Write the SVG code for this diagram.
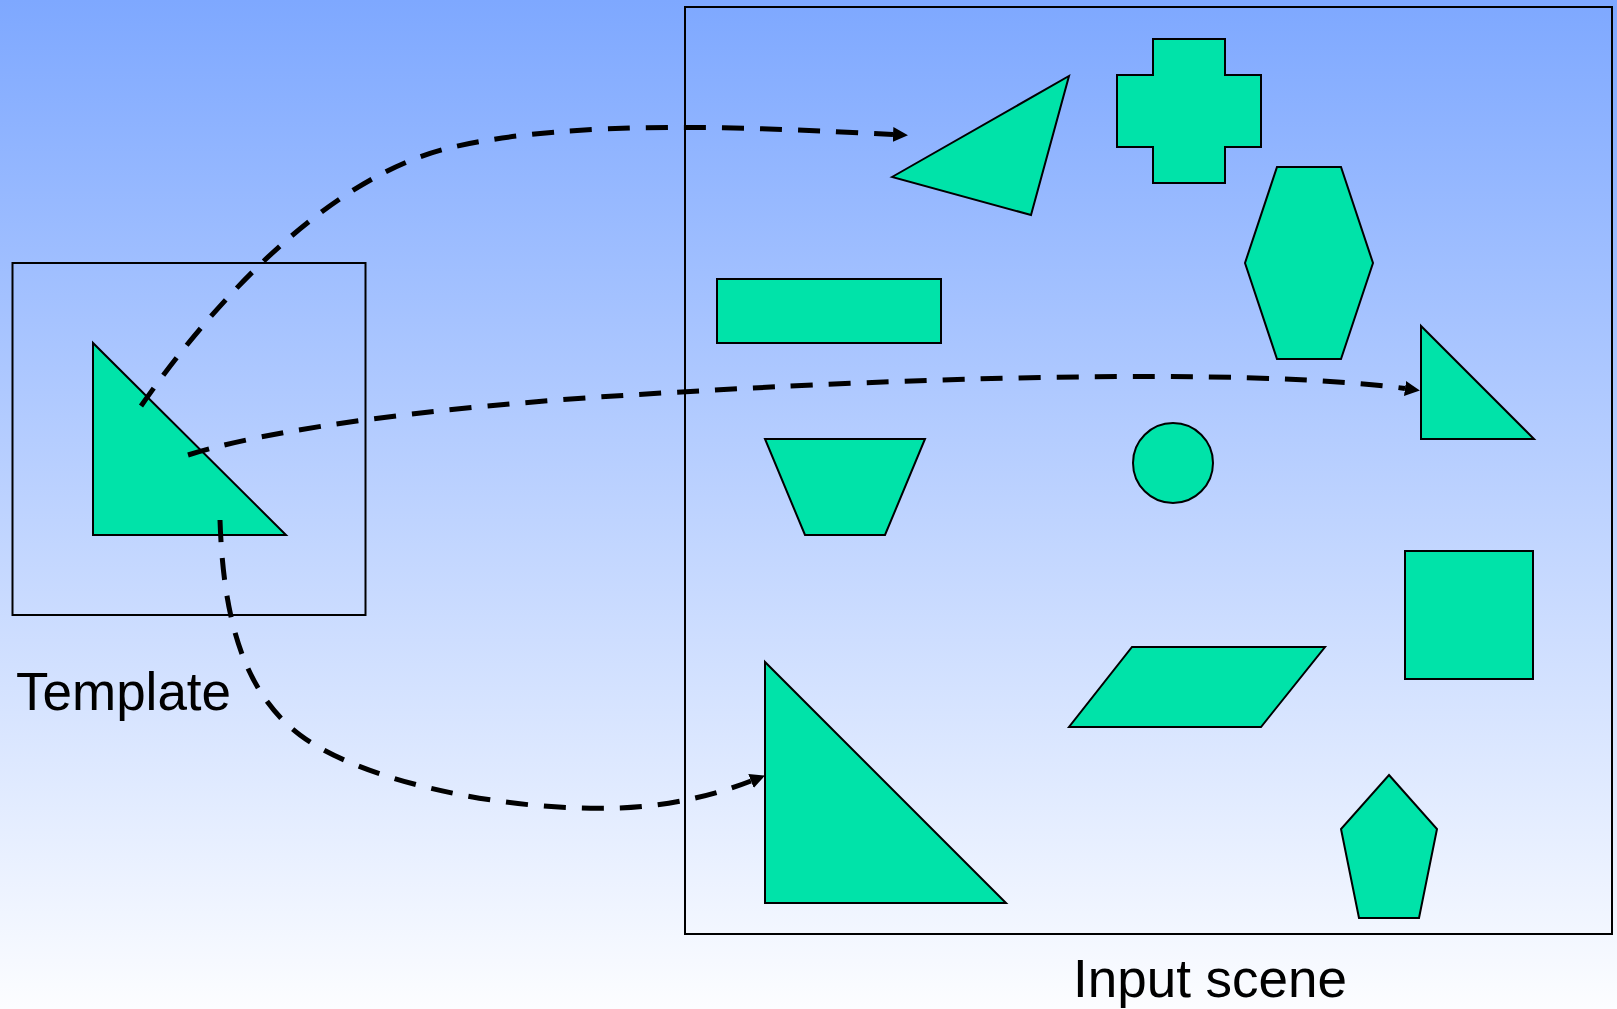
<svg xmlns="http://www.w3.org/2000/svg" width="1617" height="1009" viewBox="0 0 1617 1009">
  <defs>
    <linearGradient id="bg" x1="0" y1="0" x2="0" y2="1">
      <stop offset="0" stop-color="#7EA8FF"/>
      <stop offset="1" stop-color="#FCFDFF"/>
    </linearGradient>
    <marker id="arrow" markerUnits="userSpaceOnUse" markerWidth="16" markerHeight="16" refX="0" refY="7.5" orient="auto">
      <path d="M0,0 L15,7.5 L0,15 Z" fill="#000"/>
    </marker>
    <style>
      .frame { fill: none; stroke: #000; stroke-width: 2; }
      .shape { fill: #00E3A9; stroke: #000; stroke-width: 2; stroke-linejoin: miter; }
      .link { fill: none; stroke: #000; stroke-width: 5; stroke-dasharray: 22 16; marker-end: url(#arrow); }
      .label { font-family: "Liberation Sans", Arial, sans-serif; font-size: 53px; fill: #000; }
    </style>
  </defs>

  <rect x="0" y="0" width="1617" height="1009" fill="url(#bg)"/>

  <!-- template panel -->
  <g id="template">
    <rect class="frame" x="12.5" y="263" width="353" height="352"/>
    <polygon class="shape" points="93,343 93,535 286,535"/>
    <text class="label" x="16" y="710">Template</text>
  </g>

  <!-- scene panel -->
  <g id="scene">
    <rect class="frame" x="685" y="7" width="927" height="927"/>
    <text class="label" x="1073" y="997">Input scene</text>
  </g>

  <g id="scene-triangle-tilted">
    <polygon class="shape" points="892,177 1069,76 1031,215"/>
  </g>
  <g id="scene-cross">
    <polygon class="shape" points="1153,39 1225,39 1225,75 1261,75 1261,147 1225,147 1225,183 1153,183 1153,147 1117,147 1117,75 1153,75"/>
  </g>
  <g id="scene-hexagon">
    <polygon class="shape" points="1277,167 1341,167 1373,263 1341,359 1277,359 1245,263"/>
  </g>
  <g id="scene-rectangle">
    <rect class="shape" x="717" y="279" width="224" height="64"/>
  </g>
  <g id="scene-triangle-right">
    <polygon class="shape" points="1421,326 1421,439 1534,439"/>
  </g>
  <g id="scene-trapezoid">
    <polygon class="shape" points="765,439 925,439 885,535 805,535"/>
  </g>
  <g id="scene-circle">
    <circle class="shape" cx="1173" cy="463" r="40"/>
  </g>
  <g id="scene-square">
    <rect class="shape" x="1405" y="551" width="128" height="128"/>
  </g>
  <g id="scene-parallelogram">
    <polygon class="shape" points="1132,647 1325,647 1261,727 1069,727"/>
  </g>
  <g id="scene-triangle-large">
    <polygon class="shape" points="765,662 765,903 1006,903"/>
  </g>
  <g id="scene-pentagon">
    <polygon class="shape" points="1389,775 1437,829 1419,918 1359,918 1341,829"/>
  </g>

  <!-- dashed correspondences from the template to matches in the scene -->
  <g id="connectors">
    <path class="link" d="M141,406 C215,300 330,175 453,147 C576,119 750,127 893,134.5"/>
    <path class="link" d="M188,455 C300,420 520,400 700,391 C880,380 1240,366 1405,388.5"/>
    <path class="link" d="M220,520 C223,610 240,690 300,735 C360,780 500,812 620,808 C670,806 715,795 751,781"/>
  </g>
</svg>
